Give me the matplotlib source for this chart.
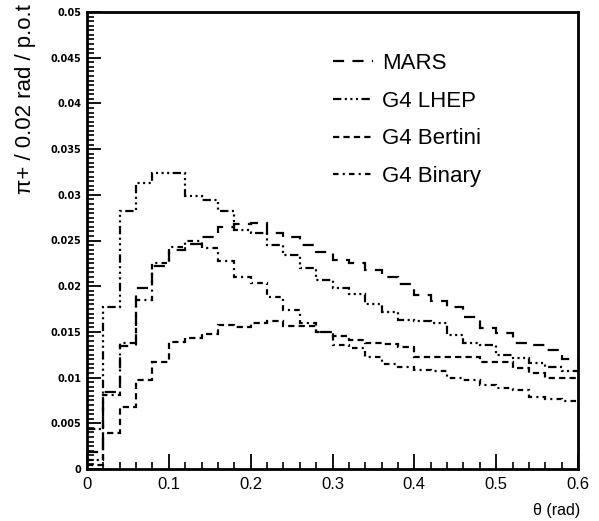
import numpy as np
import matplotlib
matplotlib.use("Agg")
import matplotlib.pyplot as plt
from matplotlib.lines import Line2D
from matplotlib.ticker import FixedLocator, MultipleLocator

# ---- data (pi+ per 0.02 rad per p.o.t, bins of 0.02 rad from 0 to 0.6) ----
bin_lo, bin_hi, bin_w = 0.0, 0.6, 0.02
labels = ["MARS", "G4 LHEP", "G4 Bertini", "G4 Binary"]

mars = [0.0019, 0.0084, 0.0135, 0.0198, 0.0222, 0.0240, 0.0246, 0.0254, 0.0265, 0.0268,
        0.0269, 0.0258, 0.0254, 0.0245, 0.0237, 0.0229, 0.0225, 0.0218, 0.0210, 0.0202,
        0.0190, 0.0184, 0.0177, 0.0166, 0.0154, 0.0149, 0.0138, 0.0136, 0.0130, 0.0120]
lhep = [0.0044, 0.0177, 0.0282, 0.0313, 0.0324, 0.0324, 0.0299, 0.0294, 0.0282, 0.0261,
        0.0258, 0.0245, 0.0234, 0.0220, 0.0207, 0.0198, 0.0192, 0.0180, 0.0172, 0.0163,
        0.0162, 0.0160, 0.0147, 0.0138, 0.0136, 0.0125, 0.0121, 0.0116, 0.0112, 0.0107]
bertini = [0.0004, 0.0039, 0.0068, 0.0097, 0.0117, 0.0139, 0.0143, 0.0148, 0.0158, 0.0155,
           0.0160, 0.0162, 0.0156, 0.0156, 0.0150, 0.0145, 0.0141, 0.0138, 0.0137, 0.0134,
           0.0123, 0.0123, 0.0123, 0.0123, 0.0117, 0.0117, 0.0111, 0.0105, 0.0100, 0.0100]
binary = [0.0010, 0.0081, 0.0138, 0.0185, 0.0225, 0.0243, 0.0250, 0.0242, 0.0228, 0.0210,
          0.0203, 0.0188, 0.0174, 0.0160, 0.0150, 0.0136, 0.0132, 0.0123, 0.0115, 0.0112,
          0.0108, 0.0107, 0.0100, 0.0097, 0.0092, 0.0089, 0.0086, 0.0079, 0.0077, 0.0074]

x_ticks = [0, 0.1, 0.2, 0.3, 0.4, 0.5, 0.6]
x_ticklabels = ["0", "0.1", "0.2", "0.3", "0.4", "0.5", "0.6"]
y_ticks = [0, 0.005, 0.01, 0.015, 0.02, 0.025, 0.03, 0.035, 0.04, 0.045, 0.05]
y_ticklabels = ["0", "0.005", "0.01", "0.015", "0.02", "0.025", "0.03", "0.035", "0.04", "0.045", "0.05"]
x_title = "θ (rad)"
y_title = "π+ / 0.02 rad / p.o.t"

# ---- style ----
plt.rcParams["lines.scale_dashes"] = False
plt.rcParams["font.family"] = ["Liberation Sans", "DejaVu Sans"]
dash_styles = [
    (0, (8, 6)),                                  # MARS
    (0, (6, 2.5, 1.5, 2.5, 1.5, 2.5, 1.5, 2.5)),  # G4 LHEP
    (0, (4.5, 3)),                                # G4 Bertini
    (0, (4, 3, 1.5, 3)),                          # G4 Binary
]
lw = 1.6

W, H = 599, 521
fig = plt.figure(figsize=(W / 100, H / 100), dpi=100)
ax = fig.add_axes([87 / W, (H - 469) / H, (578 - 87) / W, (469 - 12) / H])

edges = np.linspace(bin_lo, bin_hi, int(round((bin_hi - bin_lo) / bin_w)) + 1)
series = [mars, lhep, bertini, binary]
handles = []
for vals, ls, lab in zip(series, dash_styles, labels):
    ax.stairs(vals, edges, color="black", linewidth=lw, baseline=None, linestyle=ls)
    handles.append(Line2D([], [], color="black", linewidth=lw, linestyle=ls))

ax.set_xlim(0, 0.6)
ax.set_ylim(0, 0.05)
ax.xaxis.set_major_locator(FixedLocator(x_ticks))
ax.set_xticklabels(x_ticklabels)
ax.xaxis.set_minor_locator(MultipleLocator(0.02))
ax.yaxis.set_major_locator(FixedLocator(y_ticks))
ax.set_yticklabels(y_ticklabels)
ax.yaxis.set_minor_locator(MultipleLocator(0.0005))

ax.tick_params(axis="both", which="both", direction="in", top=False, right=False)
ax.tick_params(axis="x", which="major", length=11, width=1.3, labelsize=12, pad=6)
ax.tick_params(axis="x", which="minor", length=5, width=1.2)
ax.tick_params(axis="y", which="major", length=10, width=1.3, pad=4)
ax.tick_params(axis="y", which="minor", length=5, width=1.2)
for lab in ax.get_yticklabels():
    lab.set_fontsize(7)
    lab.set_fontweight("bold")
    lab.set_family("DejaVu Sans")
for sp in ax.spines.values():
    sp.set_linewidth(2)

fig.text(26 / W, 1 - 4 / H, y_title, rotation=90, ha="center", va="top", fontsize=16)
fig.text(580 / W, 1 - 510 / H, x_title, ha="right", va="center", fontsize=11.5)

ax.legend(handles, labels, loc="upper left", bbox_to_anchor=(0.500, 0.91),
          frameon=False, fontsize=16, handlelength=1.8, handletextpad=0.45,
          labelspacing=0.75, borderaxespad=0, borderpad=0)

fig.savefig("out.png", dpi=100)
